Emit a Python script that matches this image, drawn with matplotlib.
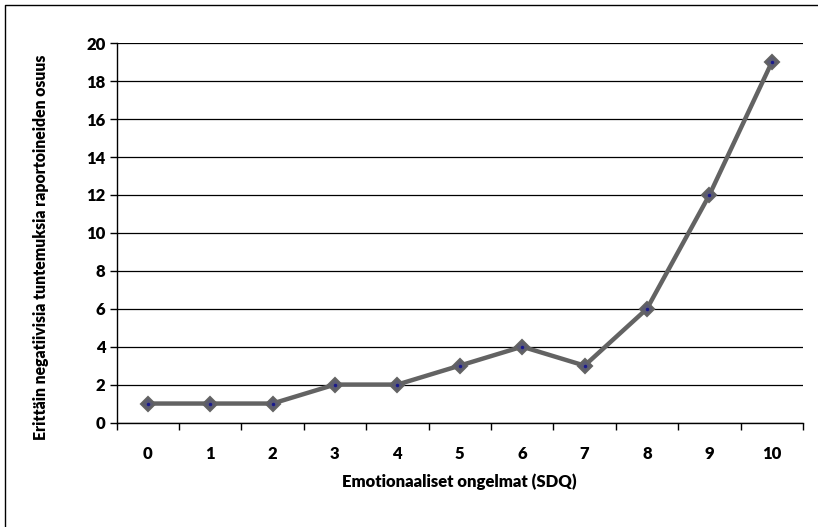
import matplotlib.pyplot as plt
from matplotlib.lines import Line2D

categories = ["0", "1", "2", "3", "4", "5", "6", "7", "8", "9", "10"]
values = [1, 1, 1, 2, 2, 3, 4, 3, 6, 12, 19]
y_ticks = [0, 2, 4, 6, 8, 10, 12, 14, 16, 18, 20]

W, H = 818, 527
plt.rcParams["font.family"] = ["Lato", "DejaVu Sans"]
fig = plt.figure(figsize=(W / 100, H / 100), dpi=100)

# plot area in pixels: x 116.5..803, y 43..422.5
left, right, top, bottom = 116.5, 803, 43.3, 422.5
ax = fig.add_axes([left / W, 1 - bottom / H, (right - left) / W, (bottom - top) / H])

# chart frame (only top and left edges visible in the crop)
fig.lines.append(Line2D([5 / W, 5 / W, 1], [0, 1 - 5 / H, 1 - 5 / H],
                        transform=fig.transFigure, color="black", linewidth=1.0))

x = list(range(len(categories)))
ax.plot(x, values, color="#636363", linewidth=3.2, zorder=3,
        marker="D", markersize=7, markerfacecolor="#5c5c70",
        markeredgecolor="#636363", markeredgewidth=1.5)
ax.plot(x, values, linestyle="none", marker="o", markersize=1.5,
        color="#1a1a8c", zorder=4)

ax.set_xlim(-0.5, len(categories) - 0.5)
ax.set_ylim(0, 20)
ax.set_yticks(y_ticks)
ax.set_yticklabels([str(v) for v in y_ticks], fontsize=12, fontweight="heavy")
ax.set_xticks(x)
ax.set_xticklabels(categories, fontsize=12, fontweight="heavy")
ax.tick_params(axis="x", length=0, pad=17)
ax.set_xticks([i - 0.5 for i in range(len(categories) + 1)], minor=True)
ax.tick_params(axis="x", which="minor", length=5, width=1, color="black", direction="out")
ax.tick_params(axis="y", length=5, width=1, color="black", pad=3)

ax.yaxis.grid(True, color="black", linewidth=0.9)
ax.set_axisbelow(True)
for s in ["top", "right"]:
    ax.spines[s].set_visible(False)
for s in ["left", "bottom"]:
    ax.spines[s].set_color("black")
    ax.spines[s].set_linewidth(1.0)

ax.set_xlabel("Emotionaaliset ongelmat (SDQ)", fontsize=12, fontweight="heavy", labelpad=8)
fig.text(41 / W, 1 - 247 / H, "Erittäin negatiivisia tuntemuksia raportoineiden osuus",
         rotation=90, ha="center", va="center", fontsize=11.3, fontweight="heavy")

fig.savefig("out.png", dpi=100)
